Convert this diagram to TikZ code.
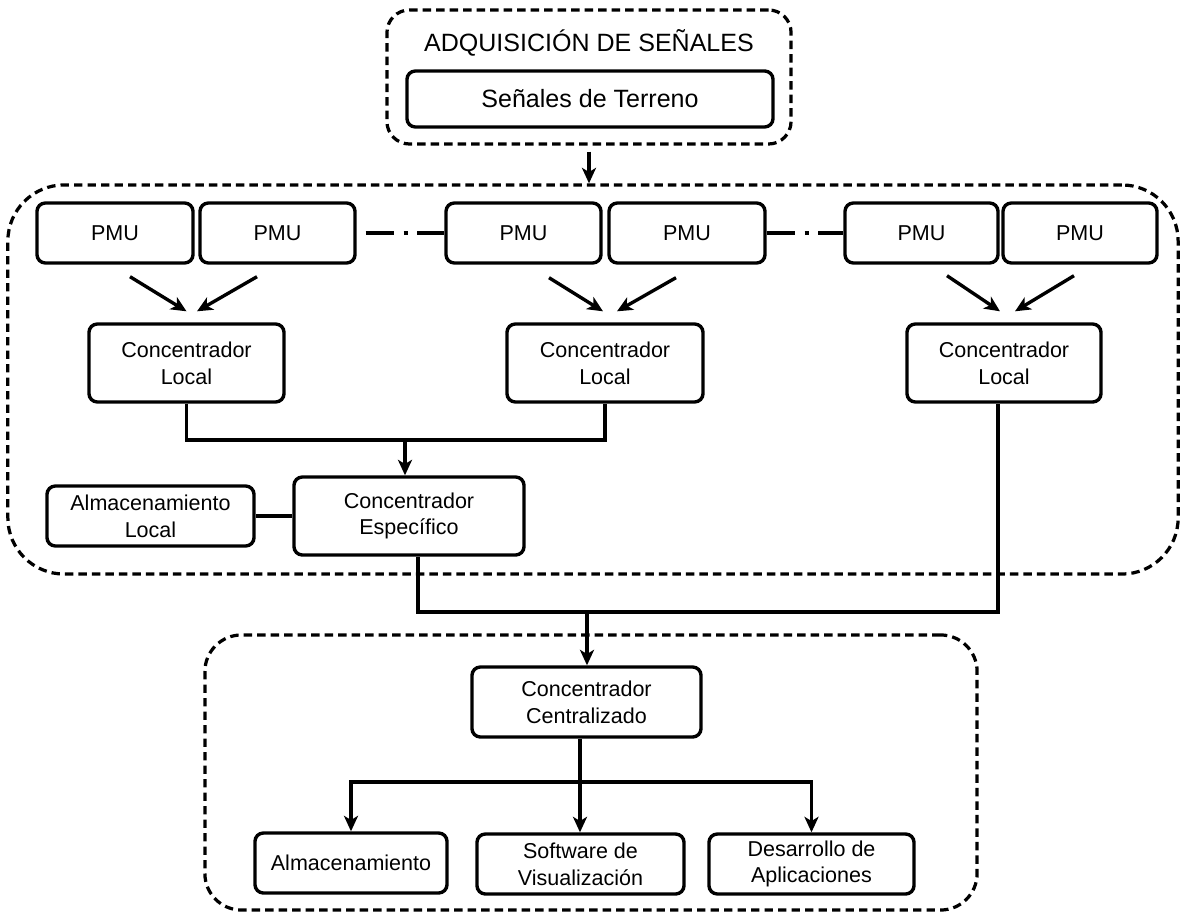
\documentclass[tikz,border=0pt]{standalone}
\usepackage{fontspec}
\setmainfont{Liberation Sans}
\usetikzlibrary{arrows.meta}

\begin{document}
\begin{tikzpicture}[x=0.025cm, y=-0.025cm,
    caja/.style={draw, line width=2.4pt, rounded corners=6pt, align=center, inner sep=0pt,
        font=\fontsize{15.3}{19}\selectfont},
    grupo/.style={draw, line width=2.3pt, dash pattern=on 6pt off 3.6pt, rounded corners=#1, inner sep=0pt},
    linea/.style={line width=2.4pt},
    flecha/.style={line width=2.4pt, -{Stealth[length=11pt, width=10pt, inset=3pt]}},
    puntoraya/.style={line width=2.4pt, dash pattern=on 20pt off 7pt on 2.8pt off 7pt}]
    \useasboundingbox (0,0) rectangle (1186,913);

    \node[grupo=16pt, minimum width=10.1cm, minimum height=3.35cm] (g1) at (589,77) {};
    \node[grupo=40pt, minimum width=29.25cm, minimum height=9.725cm] (g2) at (593,379.5) {};
    \node[grupo=26pt, minimum width=19.3cm, minimum height=6.875cm] (g3) at (591,772.5) {};

    \node[font=\fontsize{17.8}{20}\selectfont] (tit) at (589,43) {ADQUISICIÓN DE SEÑALES};
    \node[caja, minimum width=9.15cm, minimum height=1.4cm, font=\fontsize{17.8}{20}\selectfont] (ter) at (590,99) {Señales de Terreno};

    \node[caja, minimum width=3.9cm, minimum height=1.5cm] (p1) at (115,233) {PMU};
    \node[caja, minimum width=3.875cm, minimum height=1.5cm] (p2) at (277.5,233) {PMU};
    \node[caja, minimum width=3.875cm, minimum height=1.5cm] (p3) at (523.5,233) {PMU};
    \node[caja, minimum width=3.9cm, minimum height=1.5cm] (p4) at (687,233) {PMU};
    \node[caja, minimum width=3.825cm, minimum height=1.5cm] (p5) at (921.5,233) {PMU};
    \node[caja, minimum width=3.85cm, minimum height=1.5cm] (p6) at (1080,233) {PMU};

    \node[caja, minimum width=4.875cm, minimum height=1.95cm] (cl1) at (186.5,363) {Concentrador\\Local};
    \node[caja, minimum width=4.9cm, minimum height=1.95cm] (cl2) at (605,363) {Concentrador\\Local};
    \node[caja, minimum width=4.85cm, minimum height=1.95cm] (cl3) at (1004,363) {Concentrador\\Local};

    \node[caja, minimum width=5.75cm, minimum height=1.95cm] (esp) at (409,516) {Concentrador\\Específico};
    \node[caja, minimum width=5.175cm, minimum height=1.5cm] (alm) at (150.5,516) {Almacenamiento\\Local};

    \node[caja, minimum width=5.725cm, minimum height=1.75cm] (cen) at (586.5,702) {Concentrador\\Centralizado};
    \node[caja, minimum width=4.8cm, minimum height=1.5cm] (a1) at (351,863) {Almacenamiento};
    \node[caja, minimum width=5.175cm, minimum height=1.5cm] (a2) at (580.5,864) {Software de\\Visualización};
    \node[caja, minimum width=5.125cm, minimum height=1.5cm] (a3) at (811.5,864) {Desarrollo de\\Aplicaciones};

    \coordinate (u1) at (405,440);
    \coordinate (u2) at (587,612);
    \coordinate (u3) at (580,782);

    \draw[flecha] ([yshift=-4.3pt]g1.south) -- (g1.south |- g2.north);

    \draw[puntoraya, shorten <=6.4pt] (p2.east) -- (p3.west);
    \draw[puntoraya] (p4.east) -- (p5.west);

    \draw[flecha] ([shift={(15,12)}]p1.south) -- ([shift={(0,-11)}]cl1.north);
    \draw[flecha] ([shift={(-20.5,12)}]p2.south) -- ([shift={(10.5,-11)}]cl1.north);
    \draw[flecha] ([shift={(25.5,13)}]p3.south) -- ([shift={(-2,-11)}]cl2.north);
    \draw[flecha] ([shift={(-11,13)}]p4.south) -- ([shift={(12,-11)}]cl2.north);
    \draw[flecha] ([shift={(25.5,11)}]p5.south) -- ([shift={(-4,-11)}]cl3.north);
    \draw[flecha] ([shift={(-6,11)}]p6.south) -- ([shift={(11,-11)}]cl3.north);

    \draw[linea] (cl1.south) |- (u1) -| (cl2.south);
    \draw[flecha] (u1) -- (u1 |- esp.north);
    \draw[linea] (alm.east) -- (esp.west);

    \draw[linea] ([xshift=6.4pt]esp.south) |- (u2) -| ([xshift=-4.3pt]cl3.south);
    \draw[flecha] (u2) -- (u2 |- cen.north);

    \draw[linea] (u3 |- cen.south) -- (u3);
    \draw[flecha] (u3) -| (a1.north);
    \draw[flecha] (u3) -| (a3.north);
    \draw[flecha] (u3) -- (u3 |- a2.north);
\end{tikzpicture}
\end{document}
